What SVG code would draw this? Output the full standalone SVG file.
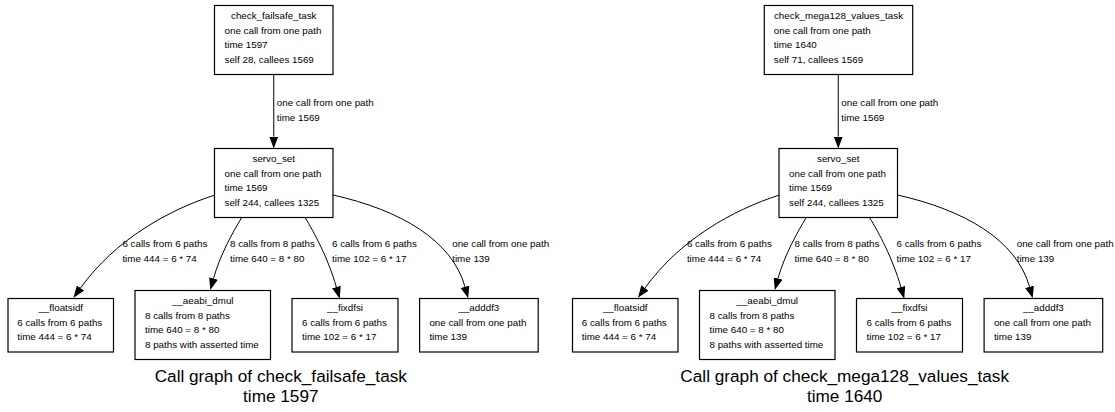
<svg xmlns="http://www.w3.org/2000/svg" width="1115" height="412" viewBox="0 0 1115 412">
  <style>
    text { font-family: "Liberation Sans", Arial, Helvetica, sans-serif; fill: #000; }
    .lbl { font-size: 9.8px; }
    .mid { text-anchor: middle; }
    .cap { font-size: 17.2px; text-anchor: middle; }
    .box { fill: #fff; stroke: #000; stroke-width: 1.2; }
    .edge { fill: none; stroke: #000; stroke-width: 1; marker-end: url(#arrow); }
  </style>
  <defs>
    <marker id="arrow" markerUnits="userSpaceOnUse" viewBox="0 0 12 9" refX="0" refY="4.5" markerWidth="12" markerHeight="9" orient="auto">
      <path d="M0,0 L12,4.5 L0,9 z" fill="#000"/>
    </marker>
  </defs>
  <rect width="1115" height="412" fill="#fff"/>

  <!-- ===== check_failsafe_task graph ===== -->
  <g id="edges-failsafe">
    <path class="edge" d="M273.75,74.5 L273.75,136.5"/>
    <path class="edge" d="M215,195 C168,210 115,240 80.5,288"/>
    <path class="edge" d="M241.7,217.5 C233,232 220,255 213.5,278.5"/>
    <path class="edge" d="M305,217.5 C314,232 328,258 336.4,287.1"/>
    <path class="edge" d="M333,195 C400,210 452,240 465,286.8"/>
    <g class="lbl">
      <text x="276.8" y="105.7">one call from one path</text>
      <text x="276.8" y="120.7">time 1569</text>
      <text x="122.4" y="247.3">6 calls from 6 paths</text>
      <text x="122.4" y="262">time 444 = 6 * 74</text>
      <text x="230" y="247.3">8 calls from 8 paths</text>
      <text x="230" y="262">time 640 = 8 * 80</text>
      <text x="332" y="247.3">6 calls from 6 paths</text>
      <text x="332" y="262">time 102 = 6 * 17</text>
      <text x="452.2" y="247.3">one call from one path</text>
      <text x="452.2" y="262">time 139</text>
    </g>
  </g>

  <g id="failsafe-check_failsafe_task" class="lbl">
    <rect class="box" x="214.5" y="5.5" width="118.5" height="69"/>
    <text class="mid" x="273.75" y="19">check_failsafe_task</text>
    <text x="224.5" y="33.6">one call from one path</text>
    <text x="224.5" y="48.2">time 1597</text>
    <text x="224.5" y="62.8">self 28, callees 1569</text>
  </g>
  <g id="failsafe-servo_set" class="lbl">
    <rect class="box" x="214.5" y="148.5" width="118.5" height="69"/>
    <text class="mid" x="273.75" y="162">servo_set</text>
    <text x="224.5" y="176.6">one call from one path</text>
    <text x="224.5" y="191.2">time 1569</text>
    <text x="224.5" y="205.8">self 244, callees 1325</text>
  </g>
  <g id="failsafe-floatsidf" class="lbl">
    <rect class="box" x="8" y="298.5" width="105.5" height="53.5"/>
    <text class="mid" x="60.75" y="311.2">__floatsidf</text>
    <text x="17.3" y="325.8">6 calls from 6 paths</text>
    <text x="17.3" y="340.4">time 444 = 6 * 74</text>
  </g>
  <g id="failsafe-aeabi_dmul" class="lbl">
    <rect class="box" x="135" y="290.5" width="135.5" height="69"/>
    <text class="mid" x="202.75" y="304">__aeabi_dmul</text>
    <text x="145" y="318.6">8 calls from 8 paths</text>
    <text x="145" y="333.2">time 640 = 8 * 80</text>
    <text x="145" y="347.8">8 paths with asserted time</text>
  </g>
  <g id="failsafe-fixdfsi" class="lbl">
    <rect class="box" x="292" y="298.5" width="106" height="53.5"/>
    <text class="mid" x="345" y="311.2">__fixdfsi</text>
    <text x="302" y="325.8">6 calls from 6 paths</text>
    <text x="302" y="340.4">time 102 = 6 * 17</text>
  </g>
  <g id="failsafe-adddf3" class="lbl">
    <rect class="box" x="419.6" y="298.5" width="118.6" height="53.5"/>
    <text class="mid" x="478.9" y="311.2">__adddf3</text>
    <text x="429.4" y="325.8">one call from one path</text>
    <text x="429.4" y="340.4">time 139</text>
  </g>
  <g id="failsafe-caption">
    <text class="cap" x="280.8" y="381.7">Call graph of check_failsafe_task</text>
    <text class="cap" x="280.8" y="401.7">time 1597</text>
  </g>

  <!-- ===== check_mega128_values_task graph ===== -->
  <g id="edges-mega128">
    <path class="edge" d="M838.25,74.5 L838.25,136.5"/>
    <g transform="translate(564.5,0)">
      <path class="edge" d="M215,195 C168,210 115,240 80.5,288"/>
      <path class="edge" d="M241.7,217.5 C233,232 220,255 213.5,278.5"/>
      <path class="edge" d="M305,217.5 C314,232 328,258 336.4,287.1"/>
      <path class="edge" d="M333,195 C400,210 452,240 465,286.8"/>
    </g>
    <g class="lbl">
      <text x="841.3" y="105.7">one call from one path</text>
      <text x="841.3" y="120.7">time 1569</text>
      <text x="686.9" y="247.3">6 calls from 6 paths</text>
      <text x="686.9" y="262">time 444 = 6 * 74</text>
      <text x="794.5" y="247.3">8 calls from 8 paths</text>
      <text x="794.5" y="262">time 640 = 8 * 80</text>
      <text x="896.5" y="247.3">6 calls from 6 paths</text>
      <text x="896.5" y="262">time 102 = 6 * 17</text>
      <text x="1016.7" y="247.3">one call from one path</text>
      <text x="1016.7" y="262">time 139</text>
    </g>
  </g>

  <g id="mega128-check_mega128_values_task" class="lbl">
    <rect class="box" x="764.3" y="5.5" width="148.4" height="69"/>
    <text class="mid" x="838.5" y="19">check_mega128_values_task</text>
    <text x="773.8" y="33.6">one call from one path</text>
    <text x="773.8" y="48.2">time 1640</text>
    <text x="773.8" y="62.8">self 71, callees 1569</text>
  </g>
  <g id="mega128-servo_set" class="lbl">
    <rect class="box" x="779" y="148.5" width="118.5" height="69"/>
    <text class="mid" x="838.25" y="162">servo_set</text>
    <text x="789" y="176.6">one call from one path</text>
    <text x="789" y="191.2">time 1569</text>
    <text x="789" y="205.8">self 244, callees 1325</text>
  </g>
  <g id="mega128-floatsidf" class="lbl">
    <rect class="box" x="572.5" y="298.5" width="105.5" height="53.5"/>
    <text class="mid" x="625.25" y="311.2">__floatsidf</text>
    <text x="581.8" y="325.8">6 calls from 6 paths</text>
    <text x="581.8" y="340.4">time 444 = 6 * 74</text>
  </g>
  <g id="mega128-aeabi_dmul" class="lbl">
    <rect class="box" x="699.5" y="290.5" width="135.5" height="69"/>
    <text class="mid" x="767.25" y="304">__aeabi_dmul</text>
    <text x="709.5" y="318.6">8 calls from 8 paths</text>
    <text x="709.5" y="333.2">time 640 = 8 * 80</text>
    <text x="709.5" y="347.8">8 paths with asserted time</text>
  </g>
  <g id="mega128-fixdfsi" class="lbl">
    <rect class="box" x="856.5" y="298.5" width="106" height="53.5"/>
    <text class="mid" x="909.5" y="311.2">__fixdfsi</text>
    <text x="866.5" y="325.8">6 calls from 6 paths</text>
    <text x="866.5" y="340.4">time 102 = 6 * 17</text>
  </g>
  <g id="mega128-adddf3" class="lbl">
    <rect class="box" x="984.1" y="298.5" width="118.6" height="53.5"/>
    <text class="mid" x="1043.4" y="311.2">__adddf3</text>
    <text x="993.9" y="325.8">one call from one path</text>
    <text x="993.9" y="340.4">time 139</text>
  </g>
  <g id="mega128-caption">
    <text class="cap" x="844.7" y="381.7">Call graph of check_mega128_values_task</text>
    <text class="cap" x="844.7" y="401.7">time 1640</text>
  </g>
</svg>
